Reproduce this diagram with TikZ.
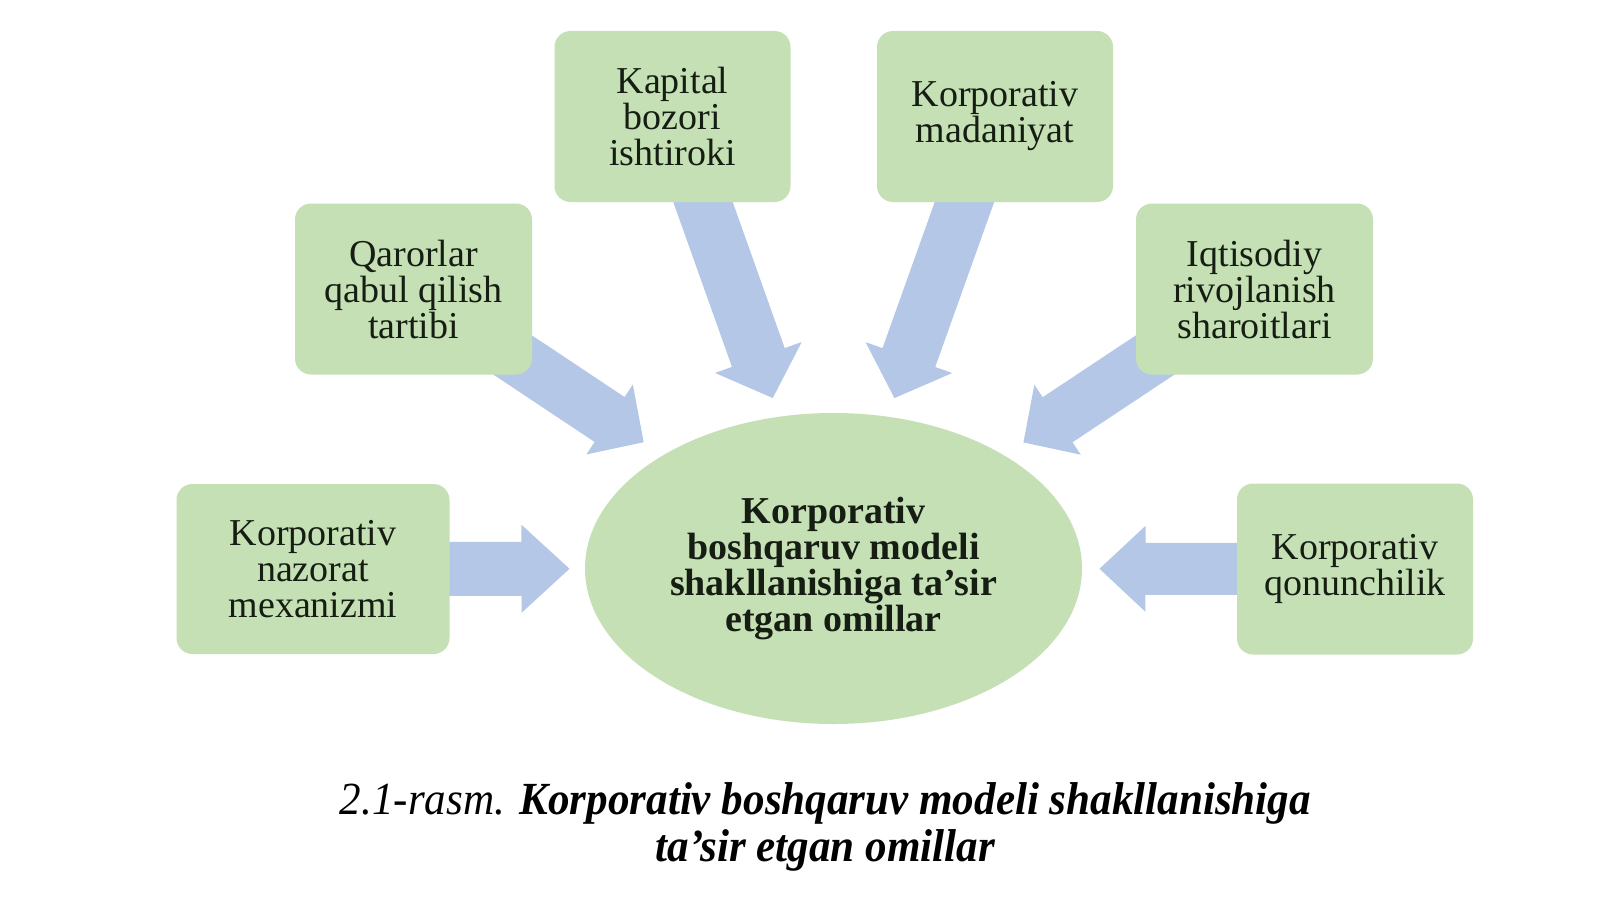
\documentclass[tikz,border=0pt]{standalone}
\usepackage{graphicx}
\usepackage{fontspec}
\setmainfont{Liberation Serif}
\usetikzlibrary{shapes.geometric,calc}
\pgfdeclarelayer{bg}
\pgfsetlayers{bg,main}
\definecolor{boxgreen}{RGB}{197,224,180}
\definecolor{arrowblue}{RGB}{180,199,231}
\definecolor{inkdark}{RGB}{22,30,20}
% block arrow: tail, tip, shaft half width, head half width, head length
\newcommand{\blockarr}[5]{%
  \coordinate (babase) at ($(#2)!#5!(#1)$);
  \fill[arrowblue] ($(#1)!#3!90:(#2)$) -- ($(babase)!#3!90:(#2)$) -- ($(babase)!#4!90:(#2)$) -- (#2)
    -- ($(babase)!#4!-90:(#2)$) -- ($(babase)!#3!-90:(#2)$) -- ($(#1)!#3!-90:(#2)$) -- cycle;
}
\tikzset{
  factor/.style={rectangle, rounded corners=16pt, fill=boxgreen, minimum width=236pt,
    minimum height=171pt, align=center, text=inkdark, inner sep=0pt,
    font=\fontsize{38}{36}\selectfont},
  hub/.style={ellipse, fill=boxgreen, minimum width=497pt, minimum height=311pt,
    inner sep=0pt, align=center, text=inkdark, font=\bfseries\fontsize{38}{36}\selectfont},
  caption/.style={inner sep=0pt, text=black}
}
\begin{document}
\begin{tikzpicture}[x=1pt,y=-1pt]
\useasboundingbox (0,0) rectangle (1600,899);
\begin{pgfonlayer}{bg}
  \fill[white] (0,0) rectangle (1600,899);
\end{pgfonlayer}

\node[factor] (kap) at (672.5,116.5) {Kapital\\bozori\\ishtiroki};
\node[factor] (mad) at (995,116.5) {Korporativ\\madaniyat};
\node[factor, minimum width=237pt] (qar) at (413.5,289) {Qarorlar\\qabul qilish\\tartibi};
\node[factor, minimum width=237pt] (iqt) at (1254.5,289) {Iqtisodiy\\rivojlanish\\sharoitlari};
\node[factor, minimum width=273pt, minimum height=170pt] (naz) at (313,569) {Korporativ\\nazorat\\mexanizmi};
\node[factor] (qon) at (1355,569) {Korporativ\\qonunchilik};

\node[hub] (ell) at (833.5,568.5) {Korporativ\\boshqaruv modeli\\shakllanishiga ta’sir\\etgan omillar};

\coordinate (tk) at ($(ell.center)!181pt!(kap.center)$);
\coordinate (tm) at ($(ell.center)!181pt!(mad.center)$);
\coordinate (tq) at ($(ell.center)!228pt!(qar.center)$);
\coordinate (ti) at ($(ell.center)!228pt!(iqt.center)$);
\coordinate (tn) at ($(ell.center)!264pt!(naz.center)$);
\coordinate (to) at ($(ell.center)!266pt!(qon.center)$);

\begin{pgfonlayer}{bg}
  \blockarr{kap.center}{tk}{28pt}{46pt}{43pt}
  \blockarr{mad.center}{tm}{28pt}{46pt}{43pt}
  \blockarr{qar.center}{tq}{27pt}{42pt}{41pt}
  \blockarr{iqt.center}{ti}{27pt}{42pt}{41pt}
  \blockarr{naz.center}{tn}{27pt}{44pt}{48pt}
  \blockarr{qon.center}{to}{26pt}{43pt}{46pt}
\end{pgfonlayer}

\node[caption] (cap) at (825.5,829) {\resizebox{971pt}{\height}{\fontsize{46}{47}\selectfont\begin{tabular}{@{}c@{}}\textit{2.1-rasm.} \textbf{\textit{Korporativ boshqaruv modeli shakllanishiga}}\\ \textbf{\textit{ta’sir etgan omillar}}\end{tabular}}};
\end{tikzpicture}
\end{document}
